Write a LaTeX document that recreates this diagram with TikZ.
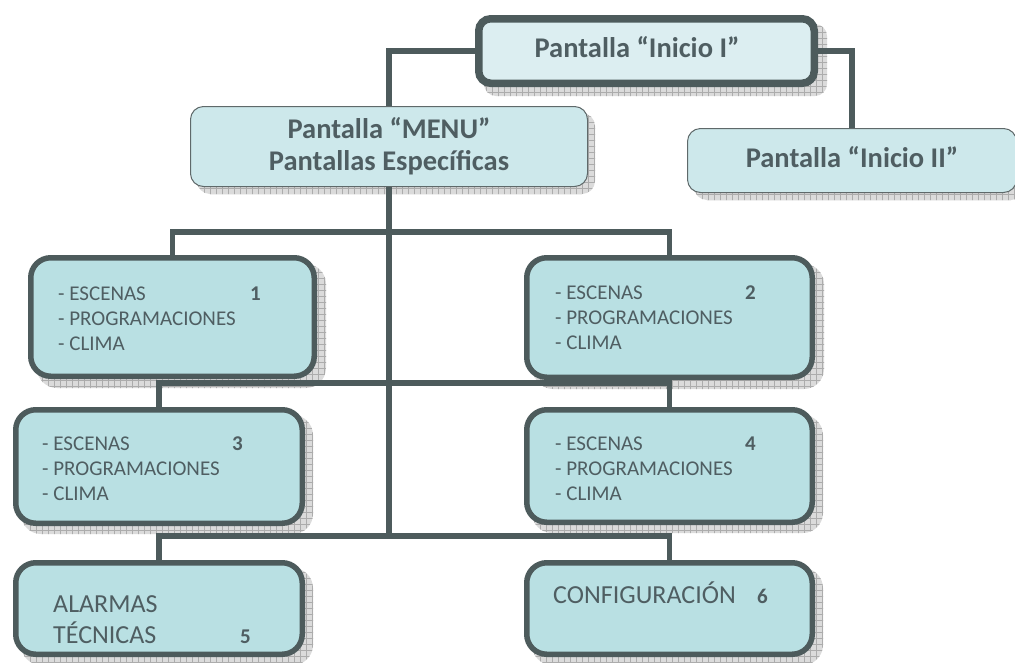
\documentclass[tikz,border=0pt]{standalone}
\usepackage{fontspec}
\setmainfont{Carlito}
\usetikzlibrary{patterns}
\definecolor{lineC}{RGB}{77,91,92}
\definecolor{textC}{RGB}{79,94,98}
\definecolor{fillBox}{RGB}{185,224,227}
\definecolor{fillMenu}{RGB}{205,232,235}
\definecolor{fillTop}{RGB}{220,238,241}
\definecolor{thinC}{RGB}{95,105,106}
\pgfdeclarepatternformonly{shgrid}{\pgfqpoint{-1pt}{-1pt}}{\pgfqpoint{7pt}{7pt}}{\pgfqpoint{6pt}{6pt}}{%
  \pgfsetlinewidth{0.5pt}%
  \pgfpathmoveto{\pgfqpoint{0pt}{0pt}}\pgfpathlineto{\pgfqpoint{6.1pt}{0pt}}%
  \pgfpathmoveto{\pgfqpoint{0pt}{0pt}}\pgfpathlineto{\pgfqpoint{0pt}{6.1pt}}%
  \pgfusepath{stroke}}
\pgfdeclarelayer{shadowlayer}
\pgfdeclarelayer{linelayer}
\pgfsetlayers{shadowlayer,linelayer,main}
\tikzset{
  thickbox/.style={draw=lineC, line width=5.5pt, fill=fillBox, rounded corners=20pt, inner sep=0pt, outer sep=0pt},
  topbox/.style={draw=lineC, line width=7.5pt, fill=fillTop, rounded corners=12pt, inner sep=0pt, outer sep=0pt},
  thinbox/.style={draw=thinC, line width=1pt, fill=fillMenu, rounded corners=13pt, inner sep=0pt, outer sep=0pt},
  conn/.style={draw=lineC, line width=5.5pt, line join=miter},
  shadowbox/.style={preaction={fill=gray!28}, pattern=shgrid, pattern color=gray!65},
  headtxt/.style={anchor=base, inner sep=0pt, text=textC, font=\fontsize{28.5}{32}\selectfont\bfseries},
  listtxt/.style={anchor=base west, inner sep=0pt, text=textC, font=\fontsize{21}{25}\selectfont},
  bigtxt/.style={anchor=base west, inner sep=0pt, text=textC, font=\fontsize{26}{31}\selectfont},
  numtxt/.style={anchor=base west, inner sep=0pt, text=textC, font=\fontsize{21}{25}\selectfont\bfseries}
}
\begin{document}
\begin{tikzpicture}[x=1pt,y=-1pt]
\useasboundingbox (0,0) rectangle (1015,662);
% boxes
\node[topbox, minimum width=335.5pt, minimum height=64.5pt] (i1) at (646.5,51) {};
\node[thinbox, minimum width=397pt, minimum height=80pt] (menu) at (389,146.5) {};
\node[thinbox, minimum width=329pt, minimum height=64pt] (i2) at (852,160.5) {};
\node[thickbox, minimum width=283.5pt, minimum height=118.5pt] (b1) at (172.5,317) {};
\node[thickbox, minimum width=285.5pt, minimum height=119.5pt] (b2) at (669.5,317.5) {};
\node[thickbox, minimum width=286.5pt, minimum height=113.5pt] (b3) at (159,466.5) {};
\node[thickbox, minimum width=285.5pt, minimum height=112.5pt] (b4) at (669.5,466) {};
\node[thickbox, minimum width=286.5pt, minimum height=91.5pt] (b5) at (159,608.5) {};
\node[thickbox, minimum width=285.5pt, minimum height=91.5pt] (b6) at (669.5,608.5) {};
% texts
\node[headtxt] (ti1) at (637,57) {Pantalla “Inicio I”};
\node[headtxt] (tm1) at (389,138) {Pantalla “MENU”};
\node[headtxt] (tm2) at (389,170) {Pantallas Específicas};
\node[headtxt] (ti2) at (852,167) {Pantalla “Inicio II”};
\node[listtxt] (t1a) at (58,300) {- ESCENAS};
\node[listtxt] (t1b) at (58,325) {- PROGRAMACIONES};
\node[listtxt] (t1c) at (58,350) {- CLIMA};
\node[numtxt] (n1) at (250,300) {1};
\node[listtxt] (t2a) at (555,299) {- ESCENAS};
\node[listtxt] (t2b) at (555,324) {- PROGRAMACIONES};
\node[listtxt] (t2c) at (555,349) {- CLIMA};
\node[numtxt] (n2) at (745,299) {2};
\node[listtxt] (t3a) at (42,450) {- ESCENAS};
\node[listtxt] (t3b) at (42,475) {- PROGRAMACIONES};
\node[listtxt] (t3c) at (42,500) {- CLIMA};
\node[numtxt] (n3) at (232,450) {3};
\node[listtxt] (t4a) at (555,450) {- ESCENAS};
\node[listtxt] (t4b) at (555,475) {- PROGRAMACIONES};
\node[listtxt] (t4c) at (555,500) {- CLIMA};
\node[numtxt] (n4) at (745,450) {4};
\node[bigtxt] (t5a) at (53,612) {ALARMAS};
\node[bigtxt] (t5b) at (53,643) {TÉCNICAS};
\node[numtxt] (n5) at (240,643) {5};
\node[bigtxt] (t6a) at (553,603) {CONFIGURACIÓN};
\node[numtxt] (n6) at (757,603) {6};
% junctions
\coordinate (j1) at (389,232);
\coordinate (j2) at (389,383);
\coordinate (j3) at (389,536);
% connectors
\begin{pgfonlayer}{linelayer}
\draw[conn] (i1.west) -| (menu.north);
\draw[conn] (i1.east) -| (i2.north);
\draw[conn] (menu.south) -- (j3);
\draw[conn] (b1.north) |- (j1) -| (b2.north);
\draw[conn] (b3.north) |- (j2) -| (b4.north);
\draw[conn] (b5.north) |- (j3) -| (b6.north);
\end{pgfonlayer}
% shadows
\begin{pgfonlayer}{shadowlayer}
\foreach \n/\h/\s/\r in {b1/2.75/9/20, b2/2.75/9/20, b3/2.75/8/20, b4/2.75/8/20, b5/2.75/8/20, b6/2.75/8/20, i1/3.75/9/12, menu/0.5/7/13, i2/0.5/7/13}{
  \path[shadowbox, rounded corners=\r pt] ([shift={({\s-\h},{\s-\h})}]\n.north west) rectangle ([shift={({\s+\h},{\s+\h})}]\n.south east);
}
\end{pgfonlayer}
\end{tikzpicture}
\end{document}
